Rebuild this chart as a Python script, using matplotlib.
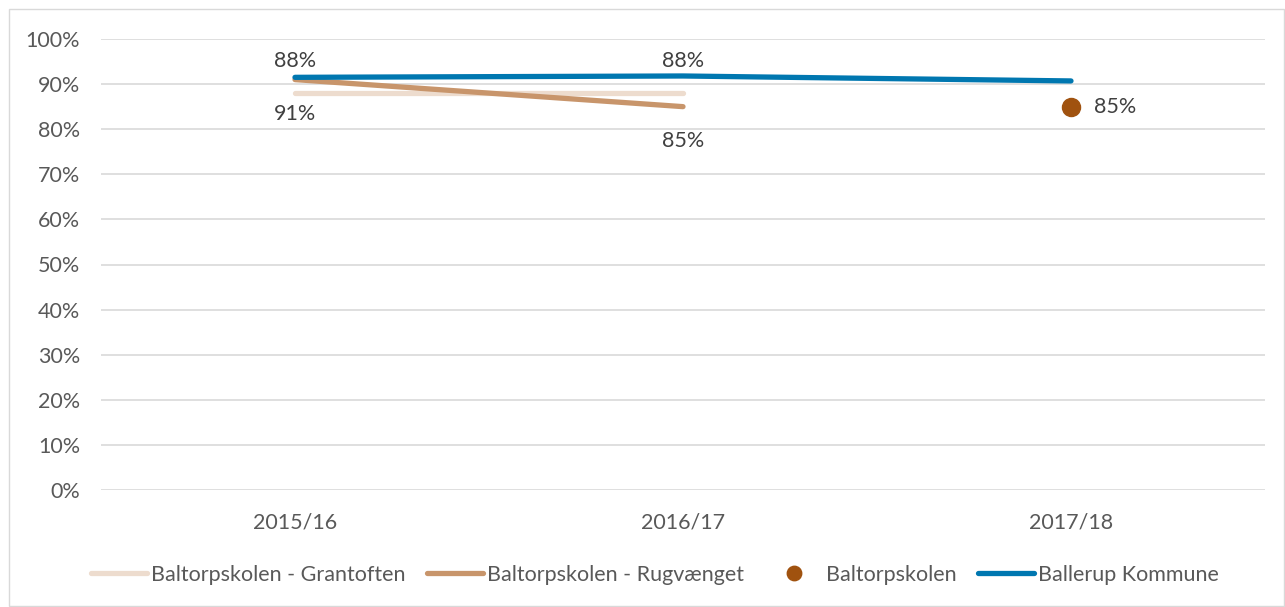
import matplotlib.pyplot as plt
from matplotlib.ticker import PercentFormatter
from matplotlib.patches import Rectangle

plt.rcParams['font.family'] = ['Lato', 'DejaVu Sans']

years = ['2015/16', '2016/17', '2017/18']
grantoften = [0.88, 0.88]
rugvaenget = [0.91, 0.85]
baltorp = [0.85]
ballerup = [0.915, 0.918, 0.907]

grey = '#595959'
c_gran = '#eddcce'
c_rug = '#c8956b'
c_balt = '#a0520f'
c_kom = '#0077b0'
fs = 15.5

fig = plt.figure(figsize=(12.85, 6.07), dpi=100)
ax = fig.add_axes([101/1285, 1 - 490/607, (1265-101)/1285, (490-39)/607])

x = list(range(len(years)))
ax.plot(x[:2], grantoften, color=c_gran, lw=3.8, solid_capstyle='round', label='Baltorpskolen - Grantoften')
ax.plot(x[:2], rugvaenget, color=c_rug, lw=3.8, solid_capstyle='round', label='Baltorpskolen - Rugvænget')
ax.plot(x[2:], baltorp, 'o', color=c_balt, ms=13, ls='none', label='Baltorpskolen')
ax.plot(x, ballerup, color=c_kom, lw=3.8, solid_capstyle='round', label='Ballerup Kommune')

# data labels
for i, v in enumerate(grantoften):
    ax.annotate(f'{v:.0%}', (x[i], v), xytext=(0, 23), textcoords='offset points',
                ha='center', va='center', fontsize=fs, color='#404040')
for i, v in enumerate(rugvaenget):
    ax.annotate(f'{v:.0%}', (x[i], v), xytext=(0, -25), textcoords='offset points',
                ha='center', va='center', fontsize=fs, color='#404040')
ax.annotate(f'{baltorp[0]:.0%}', (x[2], baltorp[0]), xytext=(32, 0), textcoords='offset points',
            ha='center', va='center', fontsize=fs, color='#404040')

ax.set_xlim(-0.5, 2.5)
ax.set_ylim(0, 1.0)
ax.set_yticks([i / 10 for i in range(11)])
ax.yaxis.set_major_formatter(PercentFormatter(1, decimals=0))
ax.set_xticks(x)
ax.set_xticklabels(years)
ax.tick_params(axis='both', length=0, labelsize=fs, labelcolor=grey)
ax.tick_params(axis='y', pad=15)
ax.tick_params(axis='x', pad=16)
ax.grid(axis='y', color='#d9d9d9', lw=1.2)
ax.set_axisbelow(True)
for s in ax.spines.values():
    s.set_visible(False)

fig.legend(loc='center', bbox_to_anchor=(655/1285, 1 - 575/607), ncol=4, frameon=False,
           fontsize=fs, labelcolor=grey, handlelength=2.6, handletextpad=0.2, columnspacing=1.0,
           markerscale=0.8)

fig.patches.append(Rectangle((9/1285, 0.002), 1 - 9/1285 - 0.001, 1 - 9/607 - 0.002,
                             transform=fig.transFigure, fill=False, ec='#d9d9d9', lw=1))

fig.savefig('out.png')
